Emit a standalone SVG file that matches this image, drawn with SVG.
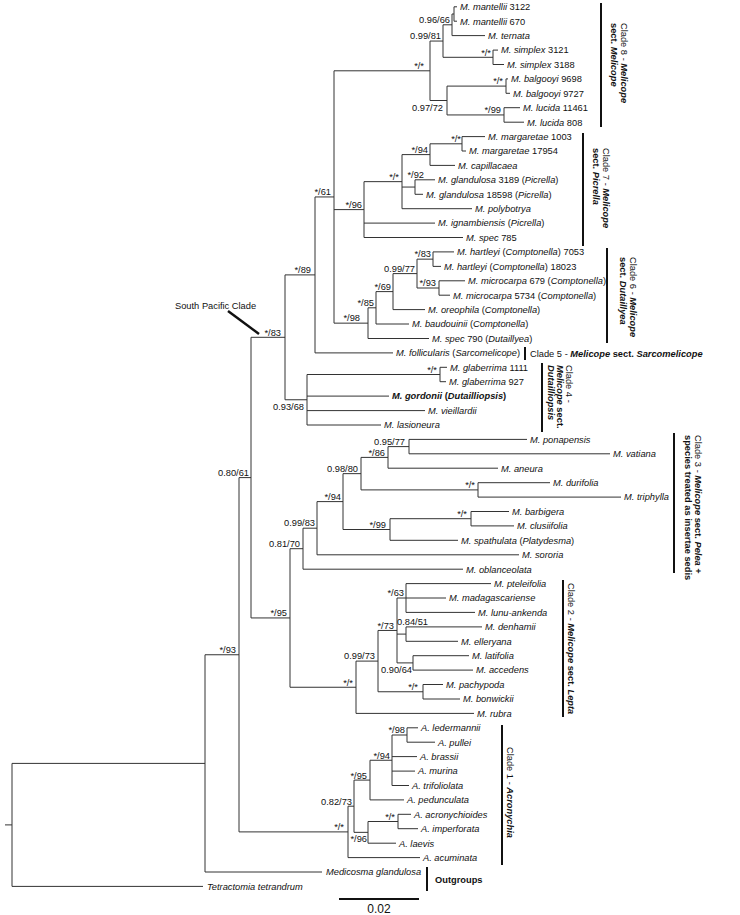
<svg xmlns="http://www.w3.org/2000/svg" width="740" height="915" viewBox="0 0 740 915">
<style>
text{font-family:"Liberation Sans",Arial,sans-serif;font-size:9.3px;fill:#111}
.i{font-style:italic}
.b{font-weight:bold}
.bi{font-weight:bold;font-style:italic}
.e{text-anchor:end}
.br{fill:none;stroke:#333;stroke-width:1}
.bar{stroke:#111;stroke-width:2}
</style>
<rect width="740" height="915" fill="#fff"/>
<g id="connectors" class="br">
<path d="M5,824.9H12 M12,763.4V886.4 M12,886.4H203 M12,763.4H205 M205,654.75V872 M205,872H322 M205,654.75H239 M239,477.6V831.9
M239,477.6H251 M251,337.3V617.95 M251,337.3H285 M285,274.9V399.75 M285,274.9H315 M315,196.95V352.9 M315,352.9H393 M315,196.95H334 M334,70.8V323.15
M334,70.8H430 M430,41.05V100.5 M430,41.05H443 M443,24.8V57.3 M443,24.8H452 M452,14V35.6 M452,14H454 M454,6.8V21.2 M454,6.8H457 M454,21.2H457 M452,35.6H485
M443,57.3H493 M493,50.1V64.5 M493,50.1H498 M493,64.5H504
M430,100.5H447 M447,86.1V114.95 M447,86.1H506 M506,78.9V93.3 M506,78.9H508 M506,93.3H510 M447,114.95H504 M504,107.7V122.2 M504,107.7H520 M504,122.2H524
M334,209.6H364 M364,181.65V237.5 M364,181.65H402 M402,154.6V208.7 M402,154.6H430 M430,143.8V165.4 M430,143.8H462 M462,136.6V151 M462,136.6H485 M462,151H466 M430,165.4H455
M402,187.05H415 M415,179.8V194.3 M415,179.8H435 M415,194.3H423 M402,208.7H472 M364,223.1H435 M364,237.5H463
M334,323.15H368 M368,307.8V338.5 M368,338.5H429 M368,307.8H376 M376,291.6V324 M376,324H409 M376,291.6H393 M393,273.6V309.6 M393,309.6H425 M393,273.6H417 M417,259.15V288
M417,259.15H433 M433,251.9V266.4 M433,251.9H454 M433,266.4H441 M417,288H439 M439,280.8V295.2 M439,280.8H465 M439,295.2H450
M285,399.75H307 M307,374.5V425 M307,374.5H440 M440,367.3V381.7 M440,367.3H447 M440,381.7H446 M307,396.1H389 M307,410.6H425 M307,425H381
M251,617.95H290 M290,548.7V687.25 M290,548.7H303 M303,528.2V569.2 M303,569.2H463 M303,528.2H317 M317,501.6V554.8 M317,554.8H519 M317,501.6H343 M343,473.65V529.5
M343,473.65H361 M361,457.4V489.9 M361,457.4H388 M388,446.6V468.2 M388,468.2H498 M388,446.6H409 M409,439.4V453.8 M409,439.4H527 M409,453.8H610
M361,489.9H478 M478,482.7V497.1 M478,482.7H550 M478,497.1H621
M343,529.5H390 M390,518.7V540.3 M390,540.3H458 M390,518.7H471 M471,511.5V525.9 M471,511.5H509 M471,525.9H514
M290,687.25H356 M356,661.1V713.4 M356,713.4H474 M356,661.1H378 M378,630.45V691.75 M378,691.75H423 M423,684.5V699 M423,684.5H443 M423,699H460
M378,630.45H397 M397,598V662.9 M397,598H406 M406,583.6V612.4 M406,583.6H491 M406,598H446 M406,612.4H475
M397,634.1H406 M406,626.9V641.3 M406,626.9H482 M406,641.3H458 M397,662.9H413 M413,655.7V670.1 M413,655.7H469 M413,670.1H473
M239,831.9H348 M348,806.2V857.6 M348,857.6H420 M348,806.2H354 M354,780.1V832.35 M354,780.1H370 M370,760.25V799.9 M370,799.9H404 M370,760.25H392 M392,735V785.5
M392,735H407 M407,727.8V742.2 M407,727.8H418 M407,742.2H435 M392,756.6H417 M392,771.1H415 M392,785.5H409
M354,832.35H368 M368,821.5V843.2 M368,843.2H396 M368,821.5H398 M398,814.3V828.7 M398,814.3H411 M398,828.7H418"/>
</g>
<g id="support-labels">
<g id="n-c8"><text class="e" x="424" y="69">*/*</text></g>
<g id="n-9981"><text class="e" x="441" y="39">0.99/81</text></g>
<g id="n-9666"><text class="e" x="450" y="22.5">0.96/66</text></g>
<g id="n-simp"><text class="e" x="491" y="55.5">*/*</text></g>
<g id="n-balg"><text class="e" x="503" y="84">*/*</text></g>
<g id="n-9772"><text class="e" x="443" y="111">0.97/72</text></g>
<g id="n-luc"><text class="e" x="501" y="113">*/99</text></g>
<g id="n-marg"><text class="e" x="461" y="142">*/*</text></g>
<g id="n-c7a"><text class="e" x="428" y="152.5">*/94</text></g>
<g id="n-gland"><text class="e" x="424" y="178">*/92</text></g>
<g id="n-picr"><text class="e" x="399" y="180">*/*</text></g>
<g id="n-c7"><text class="e" x="362" y="207.5">*/96</text></g>
<g id="n-61"><text class="e" x="331" y="195">*/61</text></g>
<g id="n-hart"><text class="e" x="431" y="257">*/83</text></g>
<g id="n-9977"><text class="e" x="415" y="271.5">0.99/77</text></g>
<g id="n-micro"><text class="e" x="436" y="286">*/93</text></g>
<g id="n-69"><text class="e" x="391" y="289.5">*/69</text></g>
<g id="n-85"><text class="e" x="374" y="306">*/85</text></g>
<g id="n-c6"><text class="e" x="360" y="321">*/98</text></g>
<g id="n-89"><text class="e" x="311" y="273">*/89</text></g>
<g id="n-sp"><text class="e" x="281" y="335.5">*/83</text></g>
<g id="n-c4"><text class="e" x="304" y="410">0.93/68</text></g>
<g id="n-glab"><text class="e" x="437" y="373">*/*</text></g>
<g id="n-8061"><text class="e" x="249" y="475.5">0.80/61</text></g>
<g id="n-9577"><text class="e" x="405" y="444.5">0.95/77</text></g>
<g id="n-86"><text class="e" x="385" y="455.5">*/86</text></g>
<g id="n-9880"><text class="e" x="358" y="471.5">0.98/80</text></g>
<g id="n-durtri"><text class="e" x="475" y="488">*/*</text></g>
<g id="n-94b"><text class="e" x="341" y="499.5">*/94</text></g>
<g id="n-barb"><text class="e" x="467" y="517">*/*</text></g>
<g id="n-9983"><text class="e" x="315" y="526">0.99/83</text></g>
<g id="n-99"><text class="e" x="386" y="527.5">*/99</text></g>
<g id="n-8170"><text class="e" x="300" y="546.5">0.81/70</text></g>
<g id="n-95"><text class="e" x="287" y="616">*/95</text></g>
<g id="n-63"><text class="e" x="404" y="596">*/63</text></g>
<g id="n-73"><text class="e" x="394" y="628.5">*/73</text></g>
<g id="n-8451"><text class="e" x="428" y="625">0.84/51</text></g>
<g id="n-9973"><text class="e" x="375" y="659">0.99/73</text></g>
<g id="n-9064"><text class="e" x="412" y="673">0.90/64</text></g>
<g id="n-lepta"><text class="e" x="353" y="685.5">*/*</text></g>
<g id="n-pach"><text class="e" x="418" y="690">*/*</text></g>
<g id="n-led"><text class="e" x="405" y="733">*/98</text></g>
<g id="n-94c"><text class="e" x="390" y="758.5">*/94</text></g>
<g id="n-95c"><text class="e" x="367" y="778.5">*/95</text></g>
<g id="n-8273"><text class="e" x="352" y="804.5">0.82/73</text></g>
<g id="n-acr"><text class="e" x="395" y="819.5">*/*</text></g>
<g id="n-96c"><text class="e" x="367" y="842">*/96</text></g>
<g id="n-acro"><text class="e" x="344" y="830">*/*</text></g>
<g id="n-93"><text class="e" x="236" y="652.5">*/93</text></g>
</g>
<g id="leaves">
<g id="L0"><text x="460" y="10.1"><tspan class="i">M. mantellii</tspan> 3122</text></g>
<g id="L1"><text x="460" y="24.5"><tspan class="i">M. mantellii</tspan> 670</text></g>
<g id="L2"><text x="488" y="38.9"><tspan class="i">M. ternata</tspan></text></g>
<g id="L3"><text x="501" y="53.4"><tspan class="i">M. simplex</tspan> 3121</text></g>
<g id="L4"><text x="507" y="67.8"><tspan class="i">M. simplex</tspan> 3188</text></g>
<g id="L5"><text x="511" y="82.2"><tspan class="i">M. balgooyi</tspan> 9698</text></g>
<g id="L6"><text x="513" y="96.6"><tspan class="i">M. balgooyi</tspan> 9727</text></g>
<g id="L7"><text x="523" y="111"><tspan class="i">M. lucida</tspan> 11461</text></g>
<g id="L8"><text x="527" y="125.5"><tspan class="i">M. lucida</tspan> 808</text></g>
<g id="L9"><text x="488" y="139.9"><tspan class="i">M. margaretae</tspan> 1003</text></g>
<g id="L10"><text x="469" y="154.3"><tspan class="i">M. margaretae</tspan> 17954</text></g>
<g id="L11"><text x="458" y="168.7"><tspan class="i">M. capillacaea</tspan></text></g>
<g id="L12"><text x="438" y="183.1"><tspan class="i">M. glandulosa</tspan> 3189 (<tspan class="i">Picrella</tspan>)</text></g>
<g id="L13"><text x="426" y="197.6"><tspan class="i">M. glandulosa</tspan> 18598 (<tspan class="i">Picrella</tspan>)</text></g>
<g id="L14"><text x="475" y="212"><tspan class="i">M. polybotrya</tspan></text></g>
<g id="L15"><text x="438" y="226.4"><tspan class="i">M. ignambiensis</tspan> (<tspan class="i">Picrella</tspan>)</text></g>
<g id="L16"><text x="466" y="240.8"><tspan class="i">M. spec</tspan> 785</text></g>
<g id="L17"><text x="457" y="255.2"><tspan class="i">M. hartleyi</tspan> (<tspan class="i">Comptonella</tspan>) 7053</text></g>
<g id="L18"><text x="444" y="269.7"><tspan class="i">M. hartleyi</tspan> (<tspan class="i">Comptonella</tspan>) 18023</text></g>
<g id="L19"><text x="468" y="284.1"><tspan class="i">M. microcarpa</tspan> 679 (<tspan class="i">Comptonella</tspan>)</text></g>
<g id="L20"><text x="453" y="298.5"><tspan class="i">M. microcarpa</tspan> 5734 (<tspan class="i">Comptonella</tspan>)</text></g>
<g id="L21"><text x="428" y="312.9"><tspan class="i">M. oreophila</tspan> (<tspan class="i">Comptonella</tspan>)</text></g>
<g id="L22"><text x="412" y="327.3"><tspan class="i">M. baudouinii</tspan> (<tspan class="i">Comptonella</tspan>)</text></g>
<g id="L23"><text x="432" y="341.8"><tspan class="i">M. spec</tspan> 790 (<tspan class="i">Dutaillyea</tspan>)</text></g>
<g id="L24"><text x="396" y="356.2"><tspan class="i">M. follicularis</tspan> (<tspan class="i">Sarcomelicope</tspan>)</text></g>
<g id="L25"><text x="450" y="370.6"><tspan class="i">M. glaberrima</tspan> 1111</text></g>
<g id="L26"><text x="449" y="385"><tspan class="i">M. glaberrima</tspan> 927</text></g>
<g id="L27"><text x="392" y="399.4" class="b"><tspan class="i">M. gordonii</tspan> (<tspan class="i">Dutailliopsis</tspan>)</text></g>
<g id="L28"><text x="428" y="413.9"><tspan class="i">M. vieillardii</tspan></text></g>
<g id="L29"><text x="384" y="428.3"><tspan class="i">M. lasioneura</tspan></text></g>
<g id="L30"><text x="530" y="442.7"><tspan class="i">M. ponapensis</tspan></text></g>
<g id="L31"><text x="613" y="457.1"><tspan class="i">M. vatiana</tspan></text></g>
<g id="L32"><text x="501" y="471.5"><tspan class="i">M. aneura</tspan></text></g>
<g id="L33"><text x="553" y="486"><tspan class="i">M. durifolia</tspan></text></g>
<g id="L34"><text x="624" y="500.4"><tspan class="i">M. triphylla</tspan></text></g>
<g id="L35"><text x="512" y="514.8"><tspan class="i">M. barbigera</tspan></text></g>
<g id="L36"><text x="517" y="529.2"><tspan class="i">M. clusiifolia</tspan></text></g>
<g id="L37"><text x="461" y="543.6"><tspan class="i">M. spathulata</tspan> (<tspan class="i">Platydesma</tspan>)</text></g>
<g id="L38"><text x="522" y="558.1"><tspan class="i">M. sororia</tspan></text></g>
<g id="L39"><text x="466" y="572.5"><tspan class="i">M. oblanceolata</tspan></text></g>
<g id="L40"><text x="494" y="586.9"><tspan class="i">M. pteleifolia</tspan></text></g>
<g id="L41"><text x="449" y="601.3"><tspan class="i">M. madagascariense</tspan></text></g>
<g id="L42"><text x="478" y="615.7"><tspan class="i">M. lunu-ankenda</tspan></text></g>
<g id="L43"><text x="485" y="630.2"><tspan class="i">M. denhamii</tspan></text></g>
<g id="L44"><text x="461" y="644.6"><tspan class="i">M. elleryana</tspan></text></g>
<g id="L45"><text x="472" y="659"><tspan class="i">M. latifolia</tspan></text></g>
<g id="L46"><text x="476" y="673.4"><tspan class="i">M. accedens</tspan></text></g>
<g id="L47"><text x="446" y="687.8"><tspan class="i">M. pachypoda</tspan></text></g>
<g id="L48"><text x="463" y="702.3"><tspan class="i">M. bonwickii</tspan></text></g>
<g id="L49"><text x="477" y="716.7"><tspan class="i">M. rubra</tspan></text></g>
<g id="L50"><text x="421" y="731.1"><tspan class="i">A. ledermannii</tspan></text></g>
<g id="L51"><text x="438" y="745.5"><tspan class="i">A. pullei</tspan></text></g>
<g id="L52"><text x="420" y="759.9"><tspan class="i">A. brassii</tspan></text></g>
<g id="L53"><text x="418" y="774.4"><tspan class="i">A. murina</tspan></text></g>
<g id="L54"><text x="412" y="788.8"><tspan class="i">A. trifoliolata</tspan></text></g>
<g id="L55"><text x="407" y="803.2"><tspan class="i">A. pedunculata</tspan></text></g>
<g id="L56"><text x="414" y="817.6"><tspan class="i">A. acronychioides</tspan></text></g>
<g id="L57"><text x="421" y="832"><tspan class="i">A. imperforata</tspan></text></g>
<g id="L58"><text x="399" y="846.5"><tspan class="i">A. laevis</tspan></text></g>
<g id="L59"><text x="423" y="860.9"><tspan class="i">A. acuminata</tspan></text></g>
<g id="L60"><text x="326" y="875.3"><tspan class="i">Medicosma glandulosa</tspan></text></g>
<g id="L61"><text x="207" y="889.7"><tspan class="i">Tetractomia tetrandrum</tspan></text></g>
</g>
<g id="clade-labels">
<g id="clade8"><line class="bar" x1="601" y1="3" x2="601" y2="127"/>
<text transform="translate(621,23) rotate(90)">Clade 8 - <tspan class="bi">Melicope</tspan></text>
<text transform="translate(611,23) rotate(90)" class="b">sect. <tspan class="i">Melicope</tspan></text></g>
<g id="clade7"><line class="bar" x1="583" y1="133" x2="583" y2="246"/>
<text transform="translate(603,148) rotate(90)">Clade 7 - <tspan class="bi">Melicope</tspan></text>
<text transform="translate(593,148) rotate(90)" class="b">sect. <tspan class="i">Picrella</tspan></text></g>
<g id="clade6"><line class="bar" x1="607" y1="248" x2="607" y2="343"/>
<text transform="translate(630,257) rotate(90)">Clade 6 - <tspan class="bi">Melicope</tspan></text>
<text transform="translate(620,257) rotate(90)" class="b">sect. <tspan class="i">Dutaillyea</tspan></text></g>
<g id="clade5"><line class="bar" x1="525" y1="347" x2="525" y2="360"/>
<text x="530" y="356.5">Clade 5 - <tspan class="bi">Melicope</tspan><tspan class="b"> sect. </tspan><tspan class="bi">Sarcomelicope</tspan></text></g>
<g id="clade4"><line class="bar" x1="542" y1="363" x2="542" y2="432"/>
<text transform="translate(566,365) rotate(90)">Clade 4 -</text>
<text transform="translate(557,365) rotate(90)" class="b"><tspan class="i">Melicope</tspan> sect.</text>
<text transform="translate(548,365) rotate(90)" class="bi">Dutailliopsis</text></g>
<g id="clade3"><line class="bar" x1="674" y1="433" x2="674" y2="573"/>
<text transform="translate(695,435) rotate(90)">Clade 3 - <tspan class="bi">Melicope</tspan><tspan class="b"> sect. </tspan><tspan class="bi">Pelea</tspan><tspan class="b"> +</tspan></text>
<text transform="translate(685,435) rotate(90)" class="b">species treated as insertae sedis</text></g>
<g id="clade2"><line class="bar" x1="563" y1="580" x2="563" y2="717"/>
<text transform="translate(568,583) rotate(90)">Clade 2 - <tspan class="bi">Melicope</tspan><tspan class="b"> sect. </tspan><tspan class="bi">Lepta</tspan></text></g>
<g id="clade1"><line class="bar" x1="502" y1="725" x2="502" y2="865"/>
<text transform="translate(507,747) rotate(90)">Clade 1 - <tspan class="bi">Acronychia</tspan></text></g>
<g id="outgroups"><line class="bar" x1="427" y1="867" x2="427" y2="891"/>
<text x="435" y="883" class="b">Outgroups</text></g>
<g id="south-pacific"><text x="175" y="309">South Pacific Clade</text>
<line x1="228" y1="311" x2="259" y2="334" stroke="#111" stroke-width="2.5"/></g>
</g>
<g id="scale"><line x1="339" y1="899" x2="419" y2="899" stroke="#111" stroke-width="2.2"/>
<text x="379" y="913" text-anchor="middle" style="font-size:12px">0.02</text></g>
</svg>
